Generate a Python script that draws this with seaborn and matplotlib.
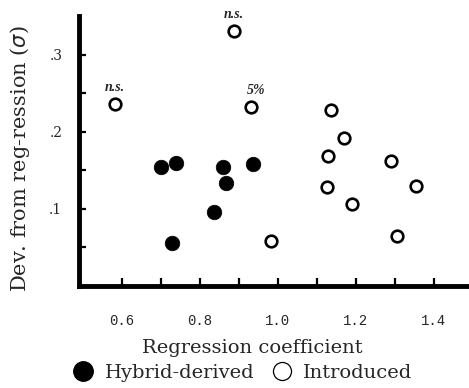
import pandas as pd
import matplotlib
matplotlib.use("Agg")
import matplotlib.pyplot as plt
from matplotlib.lines import Line2D
import seaborn as sns

# datos
hybrid_x = [0.700, 0.739, 0.859, 0.867, 0.936, 0.836, 0.728]
hybrid_y = [0.154, 0.159, 0.154, 0.134, 0.158, 0.096, 0.056]

intro_x = [0.582, 0.887, 0.931, 1.136, 1.169, 1.128, 1.290, 1.126, 1.354, 1.190, 0.982, 1.305]
intro_y = [0.236, 0.331, 0.232, 0.228, 0.192, 0.169, 0.162, 0.128, 0.130, 0.106, 0.058, 0.065]

# notas de significacion (indice del punto introducido)
notas = ["n.s.", "n.s.", "5%"]
notas_idx = [0, 1, 2]

xticks_mayor = [0.6, 0.8, 1.0, 1.2, 1.4]
xticks_menor = [0.7, 0.9, 1.1, 1.3]
yticks_mayor = [0.1, 0.2, 0.3]
yticks_menor = [0.05, 0.15, 0.25]
ytick_labels = [".1", ".2", ".3"]

df_h = pd.DataFrame({"coef": hybrid_x, "dev": hybrid_y})
df_i = pd.DataFrame({"coef": intro_x, "dev": intro_y})

sns.set_style("ticks")
plt.rcParams["font.family"] = ["DejaVu Serif"]

fig = plt.figure(figsize=(4.69, 3.88), dpi=100)
ax = fig.add_axes([79 / 469, 102 / 388, 390 / 469, 270 / 388])

sns.scatterplot(data=df_h, x="coef", y="dev", ax=ax, color="black", s=110,
                edgecolor="black", linewidth=0.5, zorder=3)
sns.scatterplot(data=df_i, x="coef", y="dev", ax=ax, facecolor="white", s=70,
                edgecolor="black", linewidth=1.9, zorder=3)

for txt, i in zip(notas, notas_idx):
    dx = 4 if txt == "5%" else 0
    ax.annotate(txt, (intro_x[i], intro_y[i]), xytext=(dx, 7), textcoords="offset points",
                ha="center", va="bottom", fontsize=10, fontweight="bold", style="italic",
                family="Liberation Serif")

ax.set_xlim(0.49, 1.49)
ax.set_ylim(0, 0.35)

ax.set_xticks(xticks_mayor)
ax.set_xticklabels([f"{v:.1f}" for v in xticks_mayor], family="Liberation Mono", fontsize=10)
ax.set_xticks(xticks_menor, minor=True)
ax.set_yticks(yticks_mayor)
ax.set_yticklabels(ytick_labels, fontsize=10)
ax.set_yticks(yticks_menor, minor=True)

ax.tick_params(axis="both", which="both", direction="in", width=1.6, color="black")
ax.tick_params(axis="x", which="both", length=6, pad=20)
ax.tick_params(axis="y", which="both", length=5, pad=12)

sns.despine(ax=ax)
for lado in ["left", "bottom"]:
    ax.spines[lado].set_linewidth(3.5)
    ax.spines[lado].set_color("black")

ax.set_xlabel("Regression coefficient", fontsize=14, va="center")
ax.xaxis.set_label_coords(0.444, -0.228)
ax.set_ylabel(r"Dev. from reg-ression ($\sigma$)", fontsize=15, va="center")
ax.yaxis.set_label_coords(-0.15, 0.47)

handles = [
    Line2D([], [], marker="o", linestyle="none", markersize=14, markerfacecolor="black",
           markeredgecolor="black"),
    Line2D([], [], marker="o", linestyle="none", markersize=13, markerfacecolor="white",
           markeredgecolor="black", markeredgewidth=0.9),
]
fig.legend(handles, ["Hybrid-derived", "Introduced"], loc="center",
           bbox_to_anchor=(243 / 469, 1 - 373 / 388), ncol=2, frameon=False,
           fontsize=14, handletextpad=0.6, columnspacing=0.9, handlelength=1.0,
           borderpad=0.1)

fig.savefig("out.png", dpi=100, facecolor="white")
